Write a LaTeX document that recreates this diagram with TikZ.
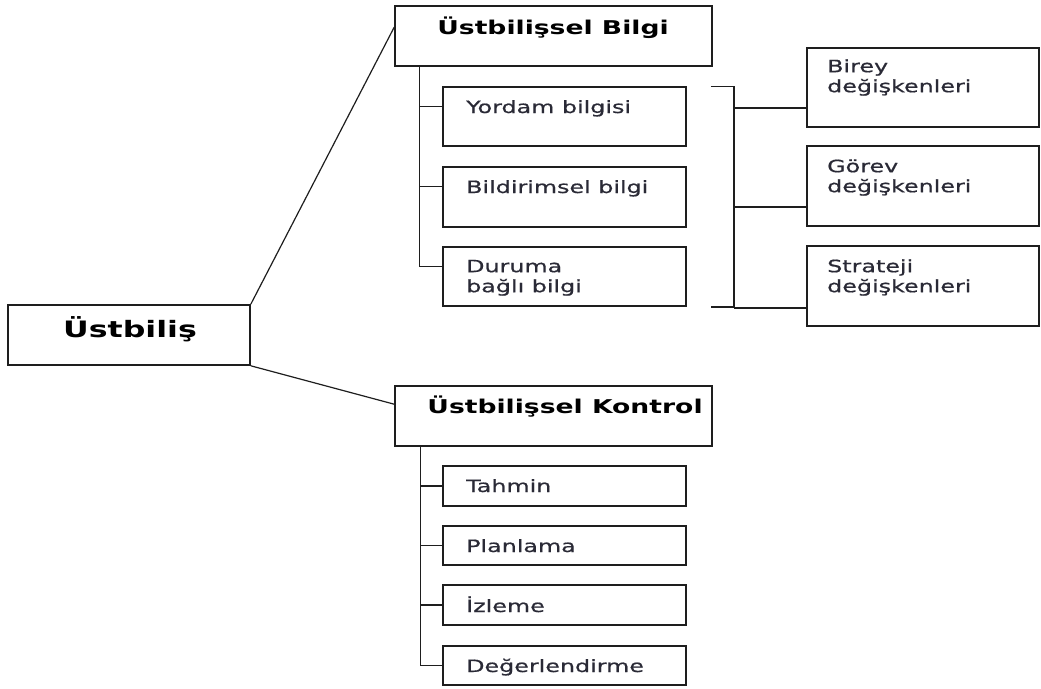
\documentclass[tikz,border=0pt]{standalone}
\usepackage{fontspec}
\setmainfont{DejaVu Sans}[FakeStretch=1.4]
\newfontfamily\regfont{DejaVu Sans}[FakeStretch=1.4, FakeBold=0.7]
\usetikzlibrary{calc}
\definecolor{ink}{HTML}{1E1E1E}
\definecolor{txt}{HTML}{2A2A36}
\begin{document}
\begin{tikzpicture}[x=1pt,y=-1pt,
  box/.style={draw=ink, line width=1.6pt, inner sep=0pt, rectangle},
  con/.style={draw=ink, line width=1.4pt},
  diag/.style={draw=ink, line width=1.2pt},
  lab/.style={font=\regfont\fontsize{17}{20}\selectfont, text=txt, inner sep=0pt, anchor=base west},
  mlab/.style={font=\regfont\fontsize{17}{20}\selectfont, text=txt, inner sep=0pt, anchor=north west, align=left},
  head/.style={font=\fontsize{19}{22}\selectfont\bfseries, text=black, inner sep=0pt, anchor=base},
  headL/.style={font=\fontsize{22.6}{26}\selectfont\bfseries, text=black, inner sep=0pt, anchor=base},
]
\path[use as bounding box, fill=white] (0,0) rectangle (1041,688);

% boxes
\node[box, minimum width=242pt, minimum height=60pt] (root) at (129,335) {};
\node[box, minimum width=317pt, minimum height=60pt] (bilgi) at (553.5,36) {};
\node[box, minimum width=317pt, minimum height=60pt] (kontrol) at (553.5,416) {};
\node[box, minimum width=243pt, minimum height=59pt] (yordam) at (564.5,116.5) {};
\node[box, minimum width=243pt, minimum height=60pt] (bildirimsel) at (564.5,197) {};
\node[box, minimum width=243pt, minimum height=59pt] (duruma) at (564.5,276.5) {};
\node[box, minimum width=232pt, minimum height=79pt] (birey) at (923,87.5) {};
\node[box, minimum width=232pt, minimum height=80pt] (gorev) at (923,186) {};
\node[box, minimum width=232pt, minimum height=80pt] (strateji) at (923,286) {};
\node[box, minimum width=243pt, minimum height=40pt] (tahmin) at (564.5,486) {};
\node[box, minimum width=243pt, minimum height=39pt] (planlama) at (564.5,545.5) {};
\node[box, minimum width=243pt, minimum height=40pt] (izleme) at (564.5,605) {};
\node[box, minimum width=243pt, minimum height=39pt] (deger) at (564.5,665.5) {};

% texts
\node[headL] (rootT) at (130,337) {Üstbiliş};
\node[head] (bilgiT) at (553,34) {Üstbilişsel Bilgi};
\node[head] (kontrolT) at (565,413) {Üstbilişsel Kontrol};
\node[lab] (yordamT) at (466,113) {Yordam bilgisi};
\node[lab] (bildirimselT) at (466,193) {Bildirimsel bilgi};
\node[mlab] (durumaT) at (466,258) {\strut Duruma\\bağlı bilgi};
\node[mlab] (bireyT) at (827,58) {\strut Birey\\değişkenleri};
\node[mlab] (gorevT) at (827,158) {\strut Görev\\değişkenleri};
\node[mlab] (stratejiT) at (827,258) {\strut Strateji\\değişkenleri};
\node[lab] (tahminT) at (466,492) {Tahmin};
\node[lab] (planlamaT) at (466,552) {Planlama};
\node[lab] (izlemeT) at (466,612) {İzleme};
\node[lab] (degerT) at (466,672) {Değerlendirme};

% root connectors
\draw[diag] (root.north east) -- ($(bilgi.north west)+(0,22)$);
\draw[diag] (root.south east) -- ($(kontrol.north west)+(0,19)$);

% upper trunk
\coordinate (t1) at ($(bilgi.south west)+(25,0)$);
\coordinate (yb) at ($(yordam.north west)+(0,20)$);
\coordinate (bb) at ($(bildirimsel.north west)+(0,20)$);
\coordinate (db) at ($(duruma.north west)+(0,20)$);
\draw[con] (t1) |- (db);
\draw[con] (t1 |- yb) -- (yb);
\draw[con] (t1 |- bb) -- (bb);

% bracket
\coordinate (bt) at ($(yordam.north east)+(24,0)$);
\coordinate (bv) at ($(yordam.north east)+(47,0)$);
\coordinate (bbot) at ($(duruma.south east)+(24,0)$);
\draw[con] (bt) -- (bv) |- (bbot);
\coordinate (r1) at ($(birey.south west)+(0,-20)$);
\coordinate (r2) at ($(gorev.south west)+(0,-20)$);
\coordinate (r3) at ($(strateji.south west)+(0,-19)$);
\draw[con] (bv |- r1) -- (r1);
\draw[con] (bv |- r2) -- (r2);
\draw[con] (bv |- r3) -- (r3);

% lower trunk
\coordinate (t2) at ($(kontrol.south west)+(26,0)$);
\draw[con] (t2) |- (deger.west);
\draw[con] (t2 |- tahmin.west) -- (tahmin.west);
\draw[con] (t2 |- planlama.west) -- (planlama.west);
\draw[con] (t2 |- izleme.west) -- (izleme.west);
\end{tikzpicture}
\end{document}
